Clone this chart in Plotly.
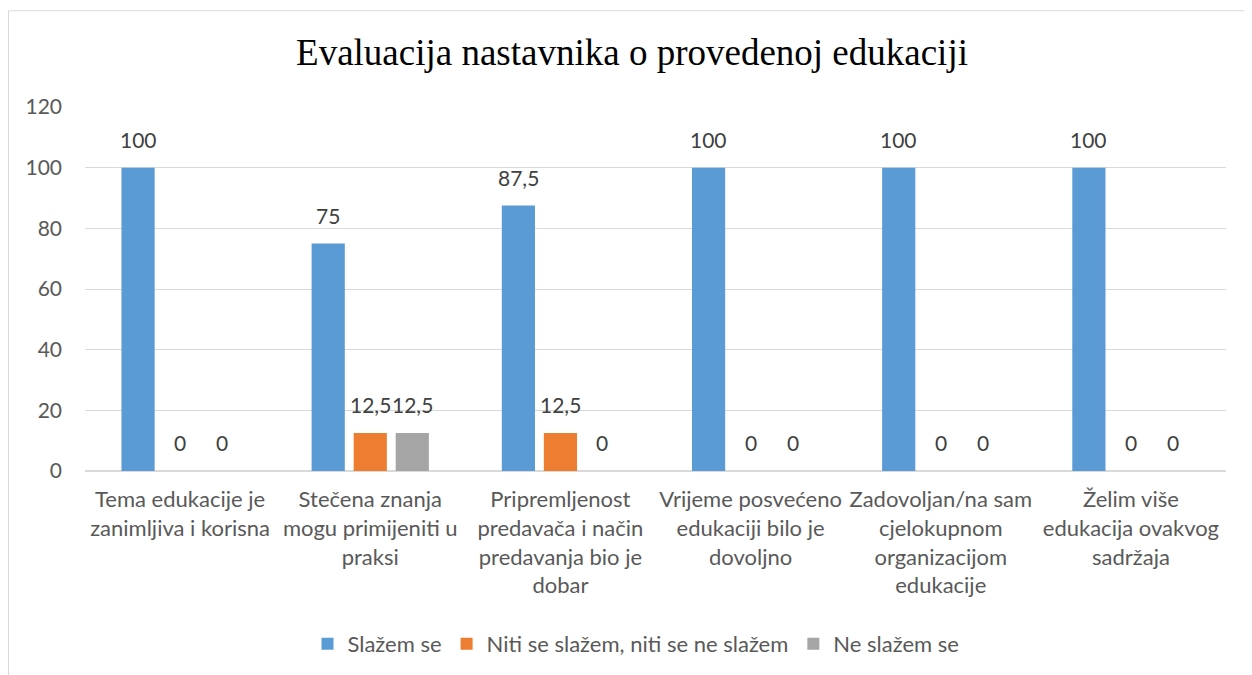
import plotly.graph_objects as go

categories = [
    "Tema edukacije je<br>zanimljiva i korisna",
    "Stečena znanja<br>mogu primijeniti u<br>praksi",
    "Pripremljenost<br>predavača i način<br>predavanja bio je<br>dobar",
    "Vrijeme posvećeno<br>edukaciji bilo je<br>dovoljno",
    "Zadovoljan/na sam<br>cjelokupnom<br>organizacijom<br>edukacije",
    "Želim više<br>edukacija ovakvog<br>sadržaja",
]
series_names = ["Slažem se", "Niti se slažem, niti se ne slažem", "Ne slažem se"]
slazem = [100, 75, 87.5, 100, 100, 100]
niti = [0, 12.5, 12.5, 0, 0, 0]
ne_slazem = [0, 12.5, 0, 0, 0, 0]
y_ticks = [0, 20, 40, 60, 80, 100, 120]
title = "Evaluacija nastavnika o provedenoj edukaciji"

colors = ["#5B9BD5", "#ED7D31", "#A5A5A5"]
all_series = [slazem, niti, ne_slazem]

# page body has an 8px margin; figure occupies screen 8..1252, 8..675
OFF = 8
W, H = 1252 - OFF, 675 - OFF
ml = 85 - OFF
mt = 107 - OFF
mr = 1252 - 1226
mb = 675 - 472
pw = W - ml - mr
ph = H - mt - mb

font_main = "Lato, 'Open Sans', sans-serif"
txt_color = "#404040"
tick_color = "#595959"

fig = go.Figure()
for name, vals, col in zip(series_names, all_series, colors):
    fig.add_trace(go.Bar(
        x=categories, y=vals, name=name,
        marker=dict(color=col, line=dict(width=0)),
    ))

bargap = 0.337
bargroupgap = 0.21
cat_w = pw / len(categories)
slot = cat_w * (1 - bargap) / 3
offsets = [-slot, 0, slot]

def fmt(v):
    return ("%g" % v).replace(".", ",")

annotations = []
for vals, off in zip(all_series, offsets):
    for c, v in zip(categories, vals):
        annotations.append(dict(
            x=c, y=v, xref="x", yref="y", text=fmt(v), showarrow=False,
            xshift=off, yshift=14, yanchor="bottom",
            font=dict(family=font_main, size=21, color=txt_color),
        ))

def px2x(px):
    return (px - OFF - ml) / pw
def py2y(py):
    return (H - mb - (py - OFF)) / ph

fig.update_layout(
    width=W, height=H,
    margin=dict(l=ml, r=mr, t=mt, b=mb),
    paper_bgcolor="white", plot_bgcolor="white",
    barmode="group", bargap=bargap, bargroupgap=bargroupgap,
    title=dict(text=title, x=px2x(632), xref="paper", xanchor="center",
               y=1 - (52 - OFF) / H, yanchor="middle",
               font=dict(family="'Liberation Serif', 'Times New Roman', serif", size=37, color="black")),
    font=dict(family=font_main, size=22, color=tick_color),
    showlegend=True,
    legend=dict(orientation="h", x=px2x(636), xanchor="center", y=py2y(644), yanchor="middle",
                font=dict(family=font_main, size=22, color=tick_color),
                itemwidth=30, traceorder="normal"),
    annotations=annotations,
    shapes=[dict(type="rect", xref="paper", yref="paper",
                 x0=px2x(8.5), x1=px2x(1270), y0=py2y(10.5), y1=py2y(700),
                 line=dict(color="#D9D9D9", width=1), fillcolor="rgba(0,0,0,0)", layer="below")],
)
fig.update_yaxes(range=[0, 120], tickvals=y_ticks, showgrid=True, gridcolor="#D9D9D9", gridwidth=1,
                 zeroline=True, zerolinecolor="#D9D9D9", showline=False, ticks="",
                 ticklabelstandoff=22, tickfont=dict(family=font_main, size=21, color=tick_color))
fig.update_xaxes(showgrid=False, showline=True, linecolor="#D9D9D9", ticks="",
                 tickangle=0, ticklabelstandoff=9,
                 tickfont=dict(family=font_main, size=22, color=tick_color))

fig.write_html("out.html")
